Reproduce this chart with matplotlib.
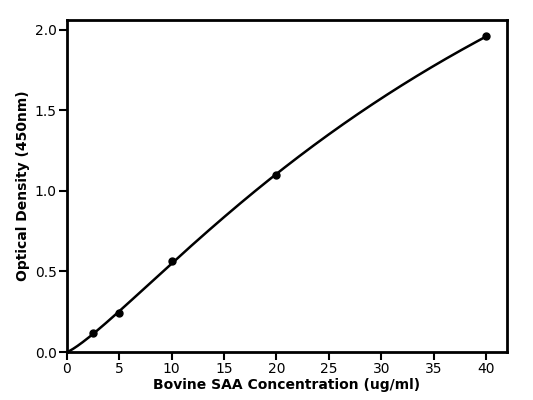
import numpy as np
import matplotlib
matplotlib.use("Agg")
import matplotlib.pyplot as plt

conc = [2.5, 5, 10, 20, 40]
od = [0.115, 0.24, 0.565, 1.10, 1.96]
x_ticks = [0, 5, 10, 15, 20, 25, 30, 35, 40]
y_ticks = [0.0, 0.5, 1.0, 1.5, 2.0]

xd = np.array(conc, float)
yd = np.array(od, float)

def f4(p, x):
    b, c, d = p
    return d - d / (1 + (np.maximum(x, 1e-9) / c) ** b)

# Levenberg-Marquardt fit of 4PL with bottom fixed at 0
p = np.array([1.3, 40.0, 4.0])
lam = 1e-2
def resid(p):
    return f4(p, xd) - yd
for _ in range(3000):
    r = resid(p)
    J = np.zeros((len(xd), 3))
    for i in range(3):
        dp = np.zeros(3); dp[i] = 1e-6 * max(1, abs(p[i]))
        J[:, i] = (f4(p + dp, xd) - f4(p, xd)) / dp[i]
    A = J.T @ J
    g = J.T @ r
    step = np.linalg.solve(A + lam * np.diag(np.diag(A) + 1e-12), -g)
    pn = p + step
    if pn[1] > 0 and pn[0] > 0 and np.sum(resid(pn) ** 2) < np.sum(r ** 2):
        p = pn; lam *= 0.5
    else:
        lam *= 3
    if lam > 1e8:
        break

xs = np.linspace(0, 40, 400)
ys = f4(p, xs)

fig = plt.figure(figsize=(5.33, 4.0), dpi=100)
ax = fig.add_axes([0.1257, 0.12, 0.8253, 0.83])
ax.plot(xs, ys, color="black", lw=1.8, clip_on=False)
ax.plot(xd, yd, "o", color="black", ms=5)
ax.set_xlim(0, 42)
ax.set_ylim(0, 2.062)
ax.set_xticks(x_ticks)
ax.set_yticks(y_ticks)
ax.set_yticklabels([f"{v:.1f}" for v in y_ticks])
for s in ax.spines.values():
    s.set_linewidth(2)
ax.tick_params(width=1.5, length=6, pad=1.5, labelsize=10)
ax.set_xlabel("Bovine SAA Concentration (ug/ml)", fontsize=10, fontweight="bold", labelpad=1)
ax.set_ylabel("Optical Density (450nm)", fontsize=10, fontweight="bold", labelpad=3)
fig.savefig("out.png", dpi=100)
